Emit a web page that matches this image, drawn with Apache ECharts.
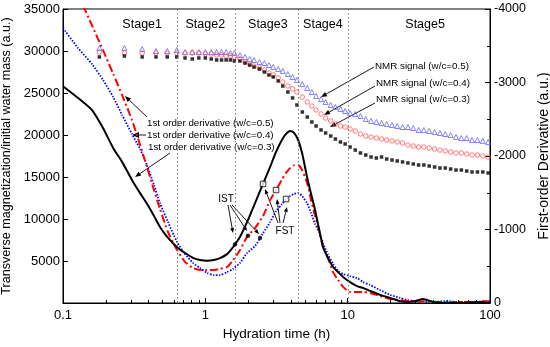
<!DOCTYPE html>
<html><head><meta charset="utf-8">
<script src="https://cdn.jsdelivr.net/npm/echarts@6/dist/echarts.min.js"></script>
<style>html,body{margin:0;padding:0;background:#fff}#c{width:550px;height:347px}</style>
</head><body><div id="c"></div>
<script>
// ---- NMR signal data (left axis) ----
const nmrTime = [0.18,0.27,0.36,0.45,0.54,0.63,0.72,0.81,0.90,1.0,1.1,1.2,1.3,1.4,1.5,1.6,
  1.75,1.9,2.05,2.2,2.4,2.6,2.8,3.0,
  3.25,3.5,3.8,4.1,4.4,4.8,5.2,5.6,6.0,
  6.5,7.0,7.6,8.2,8.9,9.6,
  10.4,11.3,12.3,13.4,14.6,15.9,17.3,18.8,
  20.5,22.3,24.3,26.5,28.9,31.5,34.3,37.4,40.8,
  44.5,48.5,52.9,57.7,62.9,68.6,74.8,81.6,89.0,97.0];
const nmr05 = [30360,30360,30240,30000,30000,30120,29880,29880,29880,29880,29880,29880,29880,29880,29760,29760,
  29520,29290,29050,28930,28690,28570,28330,28100,
  27860,27620,27260,26900,26550,26070,25600,25120,24640,
  24290,23930,23570,23330,23100,22860,
  22620,22500,22260,21900,21670,21550,21430,21310,
  21190,21070,20950,20950,20830,20600,20600,20480,20360,
  20240,20120,20000,19760,19640,19640,19410,19410,19290,19170];
const nmr04 = [29880,29760,29760,29760,29760,29760,29760,29760,29760,29640,29640,29520,29520,29410,29410,29290,
  29050,28690,28450,28210,27980,27740,27380,27140,
  26790,26310,25830,25480,25120,24520,23930,23450,22980,
  22500,22020,21670,21310,21070,20950,
  20710,20480,20120,19880,19760,19640,19520,19410,
  19290,19170,19050,18810,18690,18570,18570,18450,18330,
  18210,18100,17980,17860,17860,17740,17620,17620,17500,17380];
const nmr03 = [29290,29400,29290,29290,29290,29290,29170,29050,29170,29170,29050,28930,28930,28930,28930,28810,
  28810,28570,28330,28100,27860,27500,27140,26910,
  26430,25830,25120,24410,23570,22740,22140,21550,21070,
  20600,20240,19880,19520,19170,18930,
  18570,18210,17860,17620,17380,17260,17380,17140,
  17020,16910,16790,16670,16550,16430,16430,16310,16190,
  16070,16070,15950,15830,15830,15710,15600,15600,15600,15480];

// ---- First-order derivative data (right axis) ----
const derTime = [0.1,0.1275,0.160,0.191,0.225,0.260,0.305,0.348,0.389,0.436,
  0.480,0.547,0.633,0.720,0.820,0.918,1.028,1.151,1.269,1.421,
  1.566,1.753,1.963,2.235,2.544,2.849,3.140,3.459,3.691,3.938,
  4.201,4.483,4.783,5.184,5.531,5.901,6.295,6.716,7.282,7.896,
  8.56,9.28,10.39,11.64,12.83,14.37,16.90,19.87,23.34,26.15,
  29.76,33.88,39.82,48.35,61.66,78.6,100];
const der03 = [-2950,-2790,-2625,-2380,-2110,-1920,-1675,-1495,-1350,-1185,
  -1035,-885,-760,-680,-615,-585,-575,-585,-610,-665,
  -760,-900,-1100,-1360,-1620,-1850,-2055,-2220,-2300,-2340,
  -2315,-2220,-2040,-1715,-1485,-1265,-1005,-760,-610,-490,
  -420,-355,-285,-230,-205,-165,-110,-70,-25,-15,
  -25,-55,-15,0,0,-15,0];
const der04 = [-4640,-4200,-3775,-3440,-3120,-2830,-2490,-2150,-1850,-1535,
  -1280,-965,-720,-560,-475,-450,-450,-450,-465,-490,
  -585,-720,-900,-1020,-1185,-1400,-1535,-1685,-1770,-1835,
  -1875,-1875,-1810,-1635,-1400,-1185,-995,-760,-610,-420,
  -315,-220,-150,-150,-150,-135,-95,-55,-40,-25,
  -25,-25,-15,-15,-15,-15,-25];
const der05 = [-3740,-3470,-3250,-3035,-2805,-2560,-2300,-2095,-1875,-1605,
  -1360,-1100,-830,-665,-545,-475,-410,-380,-380,-420,
  -465,-545,-680,-775,-950,-1100,-1250,-1345,-1415,-1455,
  -1485,-1495,-1455,-1360,-1225,-1075,-965,-815,-655,-530,
  -435,-395,-365,-340,-285,-245,-175,-110,-70,-40,
  -25,-15,-15,-25,-15,-15,-25];

// ---- characteristic points ----
const istTime = [1.617, 1.995, 2.423];
const istDer = [-800, -915, -885];
const fstTime = [2.544, 3.14, 3.691];
const fstDer = [-1620, -1537, -1415];

// ---- stage boundaries & labels ----
const stageBounds = [0.643, 1.617, 4.53, 10.1];
const stageNames = ['Stage1','Stage2','Stage3','Stage4','Stage5'];
const xTicks = ['0.1','1','10','100'];

const FONT = "'Liberation Sans', Arial, sans-serif";
const zip = (a,b) => a.map((v,i)=>[v,b[i]]);

const chart = echarts.init(document.getElementById('c'), null, {renderer:'canvas'});

function arrow(x1,y1,x2,y2,L,W){
  L = L||6; W = W||2.4;
  const a = Math.atan2(y2-y1,x2-x1);
  const bx = x2 - L*Math.cos(a), by = y2 - L*Math.sin(a);
  const px = -Math.sin(a)*W, py = Math.cos(a)*W;
  return [
    {type:'line', silent:true, shape:{x1:x1,y1:y1,x2:bx,y2:by}, style:{stroke:'#000',lineWidth:0.9}},
    {type:'polygon', silent:true, shape:{points:[[x2,y2],[bx+px,by+py],[bx-px,by-py]]}, style:{fill:'#000'}}
  ];
}
function txt(x,y,s,size,align){
  return {type:'text', silent:true, x:x, y:y, style:{text:s, font:size+'px '+FONT, fill:'#000', align:align||'left', verticalAlign:'middle'}};
}

const option = {
  animation:false,
  backgroundColor:'#fff',
  grid:{left:63, right:60, top:9, bottom:44, containLabel:false, outerBoundsMode:'none',
    show:true, borderColor:'#000', borderWidth:1, backgroundColor:'transparent'},
  xAxis:{
    type:'log', logBase:10, min:0.1, max:100,
    name:'Hydration time (h)', nameLocation:'middle', nameGap:23,
    nameTextStyle:{fontFamily:FONT, fontSize:13.5, color:'#000'},
    axisLine:{show:true, lineStyle:{color:'#000', width:1}},
    axisTick:{show:true, inside:true, length:5, lineStyle:{color:'#000'}},
    minorTick:{show:true, splitNumber:9, length:3, lineStyle:{color:'#000'}},
    splitLine:{show:false}, minorSplitLine:{show:false},
    axisLabel:{fontFamily:FONT, fontSize:13, color:'#000', margin:6,
      formatter:function(v){ const i=[0.1,1,10,100].findIndex(t=>Math.abs(t-v)<1e-9); return i>=0?xTicks[i]:''; }}
  },
  yAxis:[{
    type:'value', min:0, max:35000, interval:5000, position:'left',
    name:'Transverse magnetization/initial water mass (a.u.)', nameLocation:'middle', nameGap:44,
    nameTextStyle:{fontFamily:FONT, fontSize:12.6, color:'#000'},
    axisLine:{show:true, lineStyle:{color:'#000'}},
    axisTick:{show:true, inside:true, length:5, lineStyle:{color:'#000'}},
    splitLine:{show:false},
    axisLabel:{fontFamily:FONT, fontSize:13, color:'#000', margin:3, formatter:v=> v===0?'':String(v)}
  },{
    type:'value', min:-4000, max:0, interval:1000, inverse:true, position:'right',
    name:'First-order Derivative (a.u.)', nameLocation:'middle', nameGap:40,
    nameTextStyle:{fontFamily:FONT, fontSize:14, color:'#000'},
    axisLine:{show:true, lineStyle:{color:'#000'}},
    axisTick:{show:true, inside:true, length:5, lineStyle:{color:'#000'}},
    minorTick:{show:true, splitNumber:2, length:3, lineStyle:{color:'#000'}},
    splitLine:{show:false}, minorSplitLine:{show:false},
    axisLabel:{fontFamily:FONT, fontSize:12.5, color:'#000', margin:4, formatter:v=>String(v)}
  }],
  series:[
    {type:'scatter', name:'NMR 0.5', yAxisIndex:0, data:zip(nmrTime,nmr05), symbol:'triangle', symbolSize:5,
      itemStyle:{color:'rgba(0,0,0,0)', borderColor:'#6464ff', borderWidth:1}},
    {type:'scatter', name:'NMR 0.4', yAxisIndex:0, data:zip(nmrTime,nmr04), symbol:'circle', symbolSize:4.5,
      itemStyle:{color:'rgba(0,0,0,0)', borderColor:'#ff5a5a', borderWidth:1}},
    {type:'scatter', name:'NMR 0.3', yAxisIndex:0, data:zip(nmrTime,nmr03), symbol:'rect', symbolSize:3.5,
      itemStyle:{color:'#000'}},
    {type:'line', name:'der 0.5', yAxisIndex:1, data:zip(derTime,der05), showSymbol:false, smooth:0.2, clip:true,
      lineStyle:{color:'#0000ff', width:1.8, type:[1.5,1.5]},
      markLine:{silent:true, symbol:'none', label:{show:false},
        lineStyle:{color:'#777', width:1, type:[1.5,2.5]},
        data:stageBounds.map(v=>({xAxis:v}))}},
    {type:'line', name:'der 0.4', yAxisIndex:1, data:zip(derTime,der04), showSymbol:false, smooth:0.2, clip:true,
      lineStyle:{color:'#ff0000', width:2, type:[8,3,2,3]}},
    {type:'line', name:'der 0.3', yAxisIndex:1, data:zip(derTime,der03), showSymbol:false, smooth:0.2, clip:true,
      lineStyle:{color:'#000', width:2}},
    {type:'scatter', name:'IST', yAxisIndex:1, data:zip(istTime,istDer), symbol:'circle', symbolSize:4.5,
      itemStyle:{color:'#000'}, z:5},
    {type:'scatter', name:'FST', yAxisIndex:1, data:zip(fstTime,fstDer), symbol:'rect', symbolSize:5.5,
      itemStyle:{color:'#fff', borderColor:'#000', borderWidth:1}, z:5}
  ],
  graphic:[]
};
chart.setOption(option);

// annotations (positioned relative to the drawn grid)
const stageCenters = [0.36, 1.0, 2.75, 6.7, 35];
let g = [];
stageCenters.forEach((t,i)=>{
  const p = chart.convertToPixel({xAxisIndex:0}, t);
  g.push(txt(p, 25, stageNames[i], 12.5, 'center'));
});
const AF = 9.8;
g.push(txt(147,123,'1st order derivative (w/c=0.5)',AF));
g.push(txt(147,135,'1st order derivative (w/c=0.4)',AF));
g.push(txt(148,147,'1st order derivative (w/c=0.3)',AF));
g = g.concat(arrow(147,117,125,96));
g = g.concat(arrow(146,135,132,135,7,3));
g = g.concat(arrow(170,153,135,177));
g.push(txt(375,66,'NMR signal (w/c=0.5)',AF));
g.push(txt(376,83,'NMR signal (w/c=0.4)',AF));
g.push(txt(376,99,'NMR signal (w/c=0.3)',AF));
g = g.concat(arrow(374,67,321,97));
g = g.concat(arrow(375,86,324,115));
g = g.concat(arrow(375,103,330,127));
g.push(txt(226,199,'IST',10,'center'));
g = g.concat(arrow(228,205,233,233,5,2));
g = g.concat(arrow(230,205,247,231,5,2));
g = g.concat(arrow(232,205,259,234,5,2));
g.push(txt(285,231,'FST',10,'center'));
g = g.concat(arrow(278,223,265,189,5,2));
g = g.concat(arrow(280,223,277,199,5,2));
g = g.concat(arrow(283,223,287,207,5,2));
chart.setOption({graphic:g});
</script>
</body></html>
